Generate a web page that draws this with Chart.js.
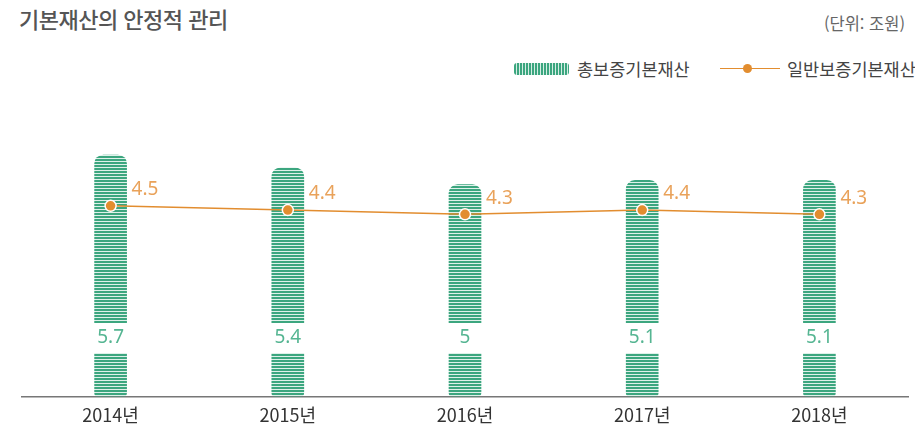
<!DOCTYPE html>
<html lang="ko">
<head>
<meta charset="utf-8">
<script src="https://cdn.jsdelivr.net/npm/chart.js@4/dist/chart.umd.min.js"></script>
<style>
  body { margin: 0; background: #fff; font-family: "Noto Sans CJK KR", "Noto Sans", sans-serif; }
  #wrap { position: relative; width: 915px; height: 434px; overflow: hidden; }
  #titulo { position: absolute; left: 19px; top: 2px; font-size: 22px; color: #555; font-weight: 500; letter-spacing: -0.5px; white-space: nowrap; }
  #unidade { position: absolute; right: 10px; top: 11px; font-size: 16.5px; color: #666; white-space: nowrap; }
  .leg { position: absolute; top: 56px; font-size: 17.5px; color: #444; display: flex; align-items: center; white-space: nowrap; }
  .sw-bar { flex: none; width: 55px; height: 12px; border-radius: 3px; margin-right: 8px;
    background: repeating-linear-gradient(90deg, #3ca67f 0 2px, #d6eee5 2px 3px); }
  .sw-line { flex: none; position: relative; width: 60px; height: 12px; margin-right: 7px; }
  .sw-line:before { content: ""; position: absolute; left: 0; right: 0; top: 5px; height: 1.5px; background: #e28d2f; }
  .sw-line:after { content: ""; position: absolute; left: 23px; top: 1px; width: 9px; height: 9px; border-radius: 50%; background: #e28d2f; }
  canvas { position: absolute; left: 0; top: 0; }
</style>
</head>
<body>
<div id="wrap">
  <div id="titulo">기본재산의 안정적 관리</div>
  <div id="unidade">(단위: 조원)</div>
  <div class="leg" style="left:514px"><span class="sw-bar"></span>총보증기본재산</div>
  <div class="leg" style="left:720px"><span class="sw-line"></span>일반보증기본재산</div>
  <canvas id="grafico" width="915" height="434"></canvas>
</div>
<script>
var anos = ['2014년', '2015년', '2016년', '2017년', '2018년'];
var totalBasico = [5.7, 5.4, 5, 5.1, 5.1];
var geralBasico = [4.5, 4.4, 4.3, 4.4, 4.3];

var verde = '#3ca67f';
var laranja = '#e28d2f';

function criarListras() {
    var c = document.createElement('canvas');
    c.width = 4;
    c.height = 3;
    var ctx = c.getContext('2d');
    ctx.fillStyle = '#dff1ea';
    ctx.fillRect(0, 0, 4, 3);
    ctx.fillStyle = verde;
    ctx.fillRect(0, 0, 4, 2);
    return ctx.createPattern(c, 'repeat');
}

// rotulos: caixa branca no pe da barra + valor da linha
var rotulos = {
    id: 'rotulos',
    afterDatasetsDraw: function (chart) {
        var ctx = chart.ctx;
        var barras = chart.getDatasetMeta(0).data;
        var pontos = chart.getDatasetMeta(1).data;
        ctx.save();
        ctx.font = '19px "Noto Sans", sans-serif';
        ctx.textAlign = 'center';
        ctx.textBaseline = 'middle';
        for (var i = 0; i < barras.length; i++) {
            var b = barras[i];
            ctx.fillStyle = '#fff';
            ctx.fillRect(b.x - 18, 323, 36, 30);
            ctx.fillStyle = '#55b592';
            ctx.fillText(String(totalBasico[i]), b.x, 338);
        }
        ctx.textAlign = 'left';
        ctx.fillStyle = '#e9a25a';
        for (var j = 0; j < pontos.length; j++) {
            var p = pontos[j];
            ctx.fillText(String(geralBasico[j]), p.x + 21, p.y - 16);
        }
        ctx.restore();
    }
};

const dados = {
    labels: anos,
    datasets: [{
        type: 'bar',
        label: '총보증기본재산',
        data: totalBasico,
        backgroundColor: criarListras(),
        barThickness: 32,
        borderSkipped: false,
        borderRadius: { topLeft: 9, topRight: 9, bottomLeft: 4, bottomRight: 4 },
        order: 1
    }, {
        type: 'line',
        label: '일반보증기본재산',
        data: geralBasico,
        borderColor: laranja,
        borderWidth: 1.5,
        backgroundColor: laranja,
        pointBackgroundColor: laranja,
        pointBorderColor: '#fff',
        pointBorderWidth: 1.5,
        pointRadius: 5.5,
        tension: 0,
        order: 0
    }]
};

new Chart(document.getElementById('grafico'), {
    type: 'bar',
    data: dados,
    options: {
        responsive: false,
        animation: { duration: 0 },
        layout: { padding: { left: 22, right: 1, top: 100, bottom: 0 } },
        plugins: {
            legend: { display: false },
            tooltip: { enabled: false }
        },
        scales: {
            x: {
                grid: { display: false, drawTicks: false },
                border: { color: '#777', width: 1.5 },
                ticks: {
                    color: '#333',
                    padding: 8,
                    font: { size: 18, family: '"Noto Sans CJK KR", "Noto Sans", sans-serif' }
                }
            },
            y: {
                display: false,
                min: 0,
                max: 7
            }
        }
    },
    plugins: [rotulos]
});
</script>
</body>
</html>
